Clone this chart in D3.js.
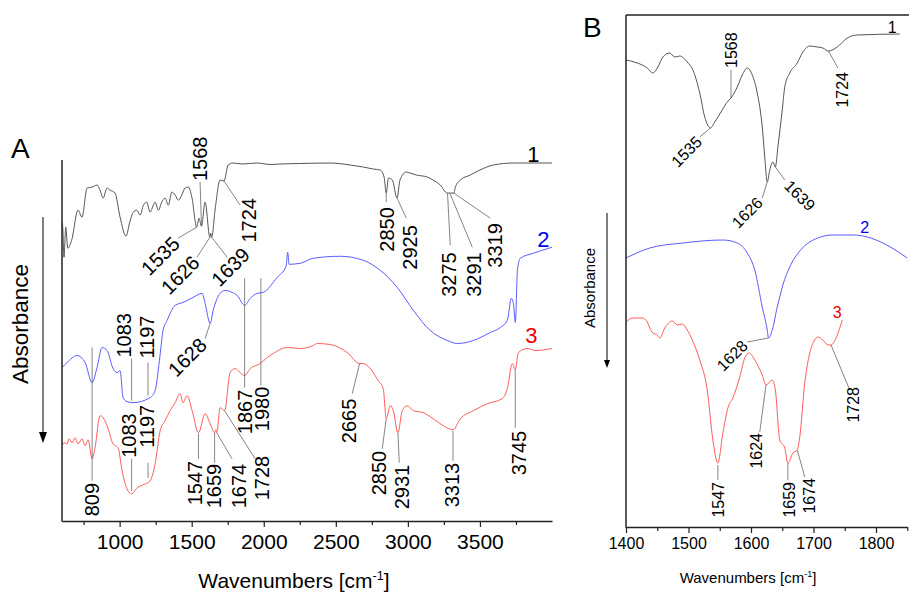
<!DOCTYPE html>
<html>
<head>
<meta charset="utf-8">
<script src="https://cdn.jsdelivr.net/npm/d3@7"></script>
<style>
  body { margin: 0; background: #fff; }
  svg { font-family: "Liberation Sans", Arial, sans-serif; }
</style>
</head>
<body>
<div id="chart"></div>
<script>
// ---- data: [wavenumber, absorbance offset (a.u., grows downward)] ----
const specA1 = [[600,.62],[605,.67],[614,.97],[626,.67],[640,.88],[667,.80],[711,.50],[739,.57],[774,.28],[808,.27],[843,.25],[864,.30],[885,.38],[913,.28],[933,.30],[968,.33],[1003,.57],[1044,.76],[1070,.62],[1095,.52],[1119,.50],[1142,.55],[1165,.45],[1188,.42],[1211,.52],[1234,.45],[1246,.42],[1269,.50],[1292,.42],[1315,.38],[1338,.45],[1362,.32],[1385,.35],[1408,.40],[1431,.35],[1454,.28],[1477,.27],[1501,.37],[1535,.67],[1550,.58],[1568,.66],[1593,.42],[1626,.77],[1632,.73],[1639,.77],[1662,.50],[1697,.20],[1724,.21],[1753,.05],[1787,.03],[1850,.04],[1950,.03],[2050,.045],[2114,.04],[2250,.035],[2461,.03],[2600,.05],[2690,.07],[2760,.09],[2808,.10],[2835,.17],[2850,.33],[2865,.18],[2892,.20],[2925,.38],[2945,.20],[2989,.12],[3015,.13],[3060,.15],[3135,.17],[3175,.20],[3225,.25],[3273,.33],[3291,.33],[3319,.33],[3330,.27],[3364,.20],[3433,.15],[3500,.10],[3593,.05],[3732,.03],[4000,.03]];

const specA2 = [[600,2.07],[635,2.02],[704,1.95],[760,2.02],[809,2.22],[843,2.07],[878,1.87],[913,1.90],[954,2.08],[982,2.12],[1003,2.10],[1024,2.37],[1051,2.41],[1093,2.42],[1211,2.37],[1246,2.30],[1280,1.95],[1301,1.70],[1329,1.60],[1385,1.45],[1440,1.42],[1510,1.37],[1572,1.33],[1593,1.43],[1628,1.63],[1649,1.50],[1697,1.33],[1732,1.30],[1780,1.32],[1815,1.35],[1867,1.45],[1906,1.38],[1954,1.33],[1996,1.32],[2093,1.17],[2155,1.06],[2166,0.92],[2176,1.04],[2253,1.03],[2343,0.98],[2530,0.96],[2690,1.00],[2808,1.10],[2926,1.27],[3038,1.50],[3155,1.70],[3273,1.80],[3343,1.83],[3454,1.80],[3572,1.72],[3642,1.67],[3690,1.60],[3718,1.38],[3732,1.43],[3746,1.62],[3760,1.10],[3780,0.98],[3871,0.93],[4000,0.87]];

const specA3 = [[600,2.85],[614,2.82],[635,2.83],[649,2.78],[670,2.82],[690,2.77],[711,2.83],[739,2.78],[760,2.85],[781,2.79],[809,2.98],[829,2.87],[864,2.55],[885,2.57],[913,2.65],[954,2.83],[989,2.87],[1017,3.10],[1051,3.28],[1083,3.33],[1121,3.27],[1162,3.24],[1211,3.20],[1246,3.03],[1281,2.70],[1315,2.60],[1350,2.50],[1385,2.42],[1419,2.33],[1440,2.42],[1468,2.35],[1503,2.50],[1547,2.72],[1593,2.53],[1628,2.63],[1659,2.72],[1667,2.69],[1674,2.72],[1697,2.47],[1728,2.50],[1767,2.12],[1801,2.08],[1836,2.12],[1867,2.15],[1906,2.08],[1975,2.03],[2024,1.97],[2065,1.93],[2162,1.87],[2253,1.88],[2343,1.85],[2371,1.83],[2461,1.84],[2579,1.92],[2665,2.03],[2690,2.03],[2739,2.08],[2794,2.20],[2829,2.28],[2850,2.58],[2878,2.45],[2899,2.50],[2931,2.72],[2961,2.50],[2996,2.45],[3038,2.50],[3107,2.52],[3176,2.58],[3246,2.65],[3313,2.69],[3364,2.58],[3454,2.50],[3551,2.43],[3655,2.38],[3690,2.28],[3725,2.03],[3745,2.09],[3767,1.92],[3829,1.88],[3885,1.90],[4000,1.88]];

const specB1 = [[1400,.45],[1418,.48],[1434,.53],[1443,.58],[1451,.52],[1459,.42],[1470,.38],[1478,.42],[1486,.41],[1498,.47],[1507,.55],[1518,.78],[1526,1.02],[1535,1.13],[1542,1.07],[1554,.95],[1562,.87],[1568,.83],[1578,.72],[1586,.60],[1594,.53],[1602,.60],[1610,.78],[1618,1.12],[1622,1.42],[1626,1.67],[1630,1.55],[1635,1.47],[1639,1.52],[1643,1.32],[1650,.95],[1654,.72],[1662,.58],[1674,.48],[1683,.37],[1694,.31],[1706,.32],[1715,.33],[1724,.36],[1738,.32],[1754,.23],[1770,.20],[1838,.19]];

const specB2 = [[1400,2.43],[1438,2.33],[1491,2.28],[1555,2.25],[1578,2.28],[1594,2.38],[1606,2.55],[1618,2.92],[1626,3.15],[1628,3.23],[1634,3.15],[1642,2.92],[1646,2.82],[1651,2.70],[1662,2.52],[1678,2.36],[1694,2.27],[1731,2.20],[1763,2.20],[1786,2.22],[1811,2.28],[1850,2.43]];

const specB3 = [[1400,3.07],[1411,3.03],[1426,3.03],[1434,3.07],[1438,3.13],[1443,3.18],[1450,3.20],[1454,3.23],[1462,3.13],[1474,3.06],[1482,3.10],[1490,3.09],[1498,3.15],[1506,3.25],[1518,3.45],[1530,3.75],[1539,4.25],[1547,4.48],[1555,4.18],[1563,3.93],[1571,3.83],[1582,3.62],[1590,3.43],[1597,3.38],[1606,3.45],[1618,3.60],[1624,3.70],[1634,3.65],[1639,3.75],[1646,4.25],[1654,4.33],[1659,4.48],[1667,4.38],[1674,4.35],[1678,4.22],[1686,3.68],[1694,3.38],[1702,3.25],[1707,3.22],[1715,3.25],[1723,3.30],[1728,3.30],[1738,3.20],[1746,3.05]];

// peak labels: [text, peak wn, peak value, leader end wn, leader end value, text wn, text value, kind]
const peaksA = [
  ["1535",1535,.67,1405,.78,1392,.80,"diag"],
  ["1568",1568,.66,1558,.22,1558,.21,"up"],
  ["1626",1626,.77,1537,.97,1530,.99,"diag"],
  ["1639",1639,.77,1746,.97,1878,.91,"diag"],
  ["1724",1724,.21,1836,.45,1899,.38,"down"],
  ["2850",2850,.33,2850,.42,2853,.47,"down"],
  ["2925",2925,.38,2989,.58,3017,.65,"down"],
  ["3275",3275,.33,3294,.85,3284,.92,"down"],
  ["3291",3291,.33,3447,.87,3457,.92,"down"],
  ["3319",3319,.33,3572,.58,3607,.63,"down"],
  ["1083",1083,2.40,1083,1.98,1031,1.97,"up"],
  ["1197",1197,2.35,1197,2.02,1187,1.98,"up"],
  ["1628",1628,1.63,1593,1.78,1579,1.81,"diag"],
  ["1867",1867,1.18,1867,2.27,1871,2.29,"down"],
  ["1980",1980,1.18,1980,2.25,1985,2.26,"down"],
  ["809",809,1.87,809,3.20,805,3.22,"down"],
  ["1083",1083,3.30,1083,2.98,1062,2.97,"up"],
  ["1197",1197,3.17,1197,3.02,1187,2.87,"up"],
  ["1547",1547,2.73,1547,2.98,1525,3.00,"down"],
  ["1659",1659,2.72,1659,3.02,1652,3.03,"down"],
  ["1674",1674,2.72,1780,2.98,1826,3.03,"down"],
  ["1728",1728,2.50,1940,2.98,1985,2.95,"down"],
  ["2665",2665,2.03,2614,2.33,2589,2.38,"down"],
  ["2850",2850,2.58,2822,2.88,2798,2.90,"down"],
  ["2931",2931,2.72,2940,3.02,2957,3.04,"down"],
  ["3313",3313,2.70,3313,3.00,3305,3.02,"down"],
  ["3745",3745,2.09,3745,2.67,3770,2.70,"down"]
];

const peaksB = [
  ["1535",1535,1.13,1518,1.22,1517,1.24,"diag"],
  ["1568",1568,.83,1568,.55,1568,.53,"up"],
  ["1626",1626,1.67,1618,1.83,1614,1.85,"diag"],
  ["1639",1639,1.52,1654,1.65,1658,1.68,"diag2"],
  ["1724",1724,.36,1739,.53,1746,.57,"down"],
  ["1628",1628,3.23,1594,3.27,1590,3.28,"diag"],
  ["1624",1624,3.70,1614,4.17,1609,4.18,"down"],
  ["1547",1547,4.50,1547,4.65,1548,4.67,"down"],
  ["1659",1659,4.48,1659,4.65,1662,4.67,"down"],
  ["1674",1674,4.35,1686,4.62,1694,4.63,"down"],
  ["1728",1728,3.30,1758,3.75,1764,3.72,"down"]
];

// curve number labels: [text, wn, value]
const namesA = [["1",3871,.02],["2",3940,.87],["3",3857,1.82]];
const namesB = [["1",1826,.18],["2",1782,2.18],["3",1738,3.03]];

const ticksA = [1000,1500,2000,2500,3000,3500];
const minorA = [750,1250,1750,2250,2750,3250,3750];
const ticksB = [1400,1500,1600,1700,1800];
const minorB = [1450,1550,1650,1750,1850];

const colors = ["#555555", "#5b5bff", "#ff5b5b"];
const nameColors = ["#000000", "#0000ee", "#ee0000"];

// ---- svg ----
const svg = d3.select('#chart').append('svg')
    .attr('width', 909)
    .attr('height', 592);

const kinds = {
  up:    { rot: -90, anchor: 'start' },
  down:  { rot: -90, anchor: 'end' },
  diag:  { rot: -45, anchor: 'end' },
  diag2: { rot: 45,  anchor: 'start' }
};

function drawPanel(cfg) {
  const g = svg.append('g');
  const x = cfg.x, y = cfg.y;

  // clip
  const clipId = 'clip' + cfg.name;
  svg.append('clipPath').attr('id', clipId).append('rect')
      .attr('x', x.range()[0]).attr('y', y.range()[0])
      .attr('width', x.range()[1] - x.range()[0])
      .attr('height', y.range()[1] - y.range()[0]);

  const line = d3.line()
      .x(d => x(d[0]))
      .y(d => y(d[1]))
      .curve(d3.curveMonotoneX);

  g.append('g').attr('clip-path', 'url(#' + clipId + ')')
    .selectAll('path.spec')
    .data(cfg.spectra)
    .enter().append('path')
      .attr('class', 'spec')
      .attr('fill', 'none')
      .attr('stroke', (d, i) => colors[i])
      .attr('stroke-width', 1)
      .attr('d', line);

  // peak leaders + labels
  const ann = g.append('g');
  cfg.peaks.forEach(p => {
    ann.append('line')
        .attr('x1', x(p[1])).attr('y1', y(p[2]))
        .attr('x2', x(p[3])).attr('y2', y(p[4]))
        .attr('stroke', '#666').attr('stroke-width', 0.8);
    const k = kinds[p[7]];
    ann.append('text')
        .attr('transform', 'translate(' + x(p[5]) + ',' + y(p[6]) + ') rotate(' + k.rot + ')')
        .attr('text-anchor', k.anchor)
        .attr('dy', '0.35em')
        .style('font-size', cfg.annSize + 'px')
        .attr('fill', '#000')
        .text(p[0]);
  });

  // curve numbers
  g.selectAll('text.name')
    .data(cfg.names)
    .enter().append('text')
      .attr('class', 'name')
      .attr('x', d => x(d[1]))
      .attr('y', d => y(d[2]))
      .attr('text-anchor', 'middle')
      .style('font-size', cfg.nameSize + 'px')
      .attr('fill', (d, i) => nameColors[i])
      .text(d => d[0]);

  // axes
  const bottom = y.range()[1];
  const ax = g.append('g')
      .attr('transform', 'translate(0,' + bottom + ')')
      .call(d3.axisBottom(x).tickValues(cfg.ticks).tickSize(6).tickSizeOuter(0)
            .tickPadding(cfg.tickPad).tickFormat(d3.format('d')));
  ax.selectAll('text').style('font-size', cfg.tickSize + 'px').attr('fill', '#000');
  ax.select('.domain').attr('stroke', '#222').attr('stroke-width', 1.5);
  ax.selectAll('.tick line').attr('stroke', '#222').attr('stroke-width', 1.2);

  g.append('g')
      .attr('transform', 'translate(0,' + bottom + ')')
      .call(d3.axisBottom(x).tickValues(cfg.minor).tickSize(4).tickSizeOuter(0).tickFormat(''))
      .call(s => s.select('.domain').remove())
      .selectAll('.tick line').attr('stroke', '#222').attr('stroke-width', 1.2);

  g.append('line')
      .attr('x1', x.range()[0]).attr('x2', x.range()[0])
      .attr('y1', y.range()[0]).attr('y2', bottom + 0.75)
      .attr('stroke', '#222').attr('stroke-width', 1.5);

  if (cfg.box) {
    // top frame line (right edge falls outside the picture)
    g.append('line')
        .attr('x1', x.range()[0]).attr('x2', 909)
        .attr('y1', y.range()[0]).attr('y2', y.range()[0])
        .attr('stroke', '#222').attr('stroke-width', 1.5);
  }

  // x title
  const t = g.append('text')
      .attr('x', cfg.titleX).attr('y', cfg.titleY)
      .attr('text-anchor', 'middle')
      .style('font-size', cfg.titleSize + 'px');
  t.append('tspan').text('Wavenumbers [cm');
  t.append('tspan').attr('dy', -cfg.titleSize * 0.4).style('font-size', (cfg.titleSize * 0.6) + 'px').text('-1');
  t.append('tspan').attr('dy', cfg.titleSize * 0.4).text(']');

  // absorbance title + arrow
  g.append('text')
      .attr('transform', 'translate(' + cfg.absX + ',' + cfg.absY + ') rotate(-90)')
      .attr('text-anchor', 'middle')
      .style('font-size', cfg.absSize + 'px')
      .text('Absorbance');
  const a = cfg.arrow;
  g.append('line')
      .attr('x1', a[0]).attr('x2', a[0]).attr('y1', a[1]).attr('y2', a[2] - 4)
      .attr('stroke', '#000').attr('stroke-width', 1);
  g.append('path')
      .attr('d', 'M' + (a[0] - a[3]) + ',' + (a[2] - a[4]) + 'L' + a[0] + ',' + a[2] + 'L' + (a[0] + a[3]) + ',' + (a[2] - a[4]) + 'Z')
      .attr('fill', '#000');

  // panel letter
  svg.append('text')
      .attr('x', cfg.letter[1]).attr('y', cfg.letter[2])
      .style('font-size', '28px')
      .text(cfg.letter[0]);
}

drawPanel({
  name: 'A',
  x: d3.scaleLinear().domain([600, 4000]).range([62, 552]),
  y: d3.scaleLinear().domain([0, 3.6]).range([160, 521]),
  spectra: [specA1, specA2, specA3],
  peaks: peaksA, names: namesA,
  ticks: ticksA, minor: minorA, tickPad: 7,
  annSize: 20, nameSize: 22, tickSize: 21, titleSize: 21,
  titleX: 294, titleY: 588,
  absX: 28, absY: 324, absSize: 22.5,
  arrow: [43, 217, 443, 4, 11],
  letter: ['A', 11, 158],
  box: false
});

drawPanel({
  name: 'B',
  x: d3.scaleLinear().domain([1400, 1850]).range([626, 907.25]),
  y: d3.scaleLinear().domain([0, 5.12]).range([15, 527]),
  spectra: [specB1, specB2, specB3],
  peaks: peaksB, names: namesB,
  ticks: ticksB, minor: minorB, tickPad: 5,
  annSize: 16, nameSize: 16, tickSize: 16, titleSize: 15,
  titleX: 748, titleY: 583,
  absX: 595, absY: 288, absSize: 15,
  arrow: [607, 213, 368, 3, 8],
  letter: ['B', 583, 37],
  box: true
});
</script>
</body>
</html>
